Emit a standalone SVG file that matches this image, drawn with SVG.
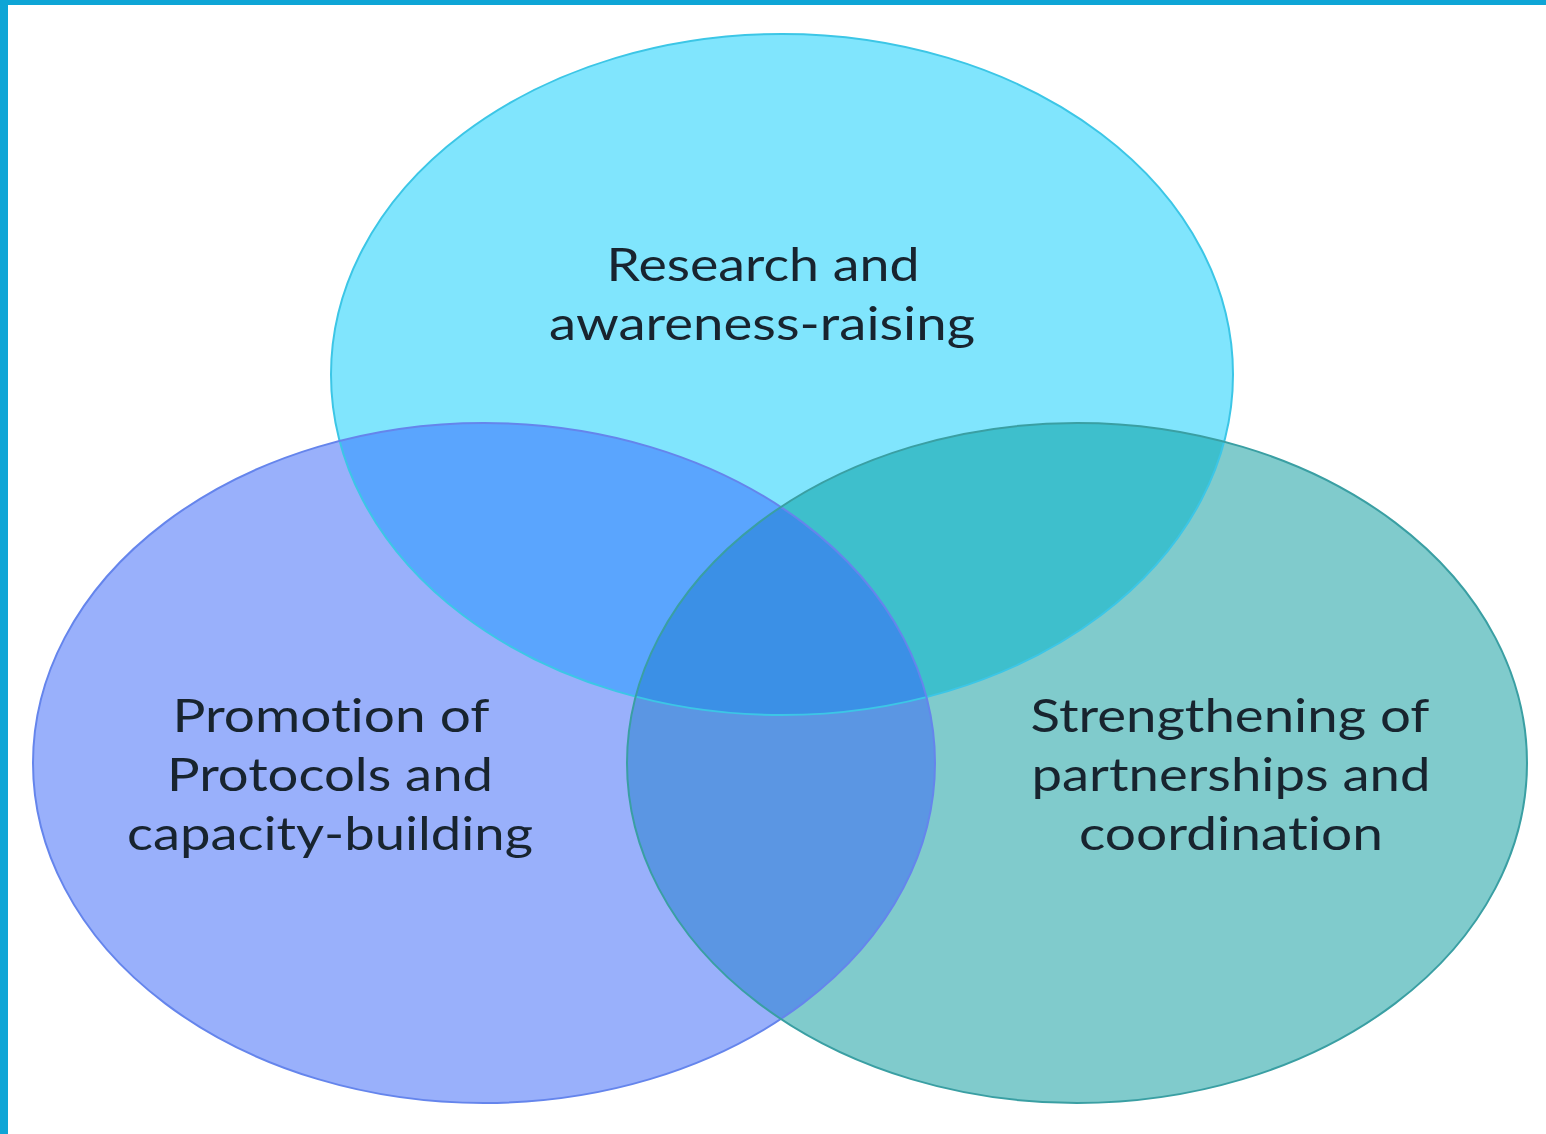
<svg xmlns="http://www.w3.org/2000/svg" width="1546" height="1134" viewBox="0 0 1546 1134">
  <style>
    .lbl { font-family: Lato, "Open Sans", "Liberation Sans", sans-serif; font-size: 47px; fill: #18242f; text-anchor: middle; font-variant-ligatures: none; font-feature-settings: "liga" 0, "clig" 0; }
  </style>
  <defs>
    <ellipse id="eTop" cx="782" cy="374.5" rx="451" ry="340.5"/>
    <ellipse id="eLeft" cx="484" cy="763" rx="451" ry="340"/>
    <ellipse id="eRight" cx="1077" cy="763" rx="450" ry="340"/>
    <clipPath id="cTop"><use href="#eTop"/></clipPath>
    <clipPath id="cLeft"><use href="#eLeft"/></clipPath>
  </defs>
  <rect x="0" y="0" width="1546" height="1134" fill="#ffffff"/>
  <rect x="0" y="0" width="1546" height="5" fill="#0ea5d6"/>
  <rect x="0" y="0" width="8" height="1134" fill="#0ea5d6"/>

  <g id="node-research">
    <use href="#eTop" fill="#80e5fd"/>
  </g>
  <g id="node-promotion">
    <use href="#eLeft" fill="#99b0fb"/>
  </g>
  <g id="node-strengthening">
    <use href="#eRight" fill="#80cbcc"/>
  </g>
  <g id="overlaps">
    <g clip-path="url(#cTop)">
      <use href="#eLeft" fill="#5aa5fe"/>
      <use href="#eRight" fill="#3ebfcc"/>
    </g>
    <g clip-path="url(#cLeft)">
      <use href="#eRight" fill="#5b96e3"/>
      <g clip-path="url(#cTop)">
        <use href="#eRight" fill="#3b90e6"/>
      </g>
    </g>
  </g>
  <g id="outlines" fill="none" stroke-width="2">
    <use href="#eTop" stroke="#3cc6e6"/>
    <use href="#eLeft" stroke="#6585ec"/>
    <use href="#eRight" stroke="#3a9fa3"/>
  </g>
  <g id="connectors"></g>

  <g id="labels">
    <text class="lbl" x="763" y="281" textLength="313" lengthAdjust="spacingAndGlyphs">Research and</text>
    <text class="lbl" x="762" y="340" textLength="426" lengthAdjust="spacingAndGlyphs">awareness-raising</text>
    <text class="lbl" x="331" y="732" textLength="317" lengthAdjust="spacingAndGlyphs">Promotion of</text>
    <text class="lbl" x="330" y="791" textLength="326" lengthAdjust="spacingAndGlyphs">Protocols and</text>
    <text class="lbl" x="330" y="850" textLength="406" lengthAdjust="spacingAndGlyphs">capacity-building</text>
    <text class="lbl" x="1230" y="732" textLength="399" lengthAdjust="spacingAndGlyphs">Strengthening of</text>
    <text class="lbl" x="1231" y="791" textLength="399" lengthAdjust="spacingAndGlyphs">partnerships and</text>
    <text class="lbl" x="1231" y="850" textLength="304" lengthAdjust="spacingAndGlyphs">coordination</text>
  </g>
</svg>
